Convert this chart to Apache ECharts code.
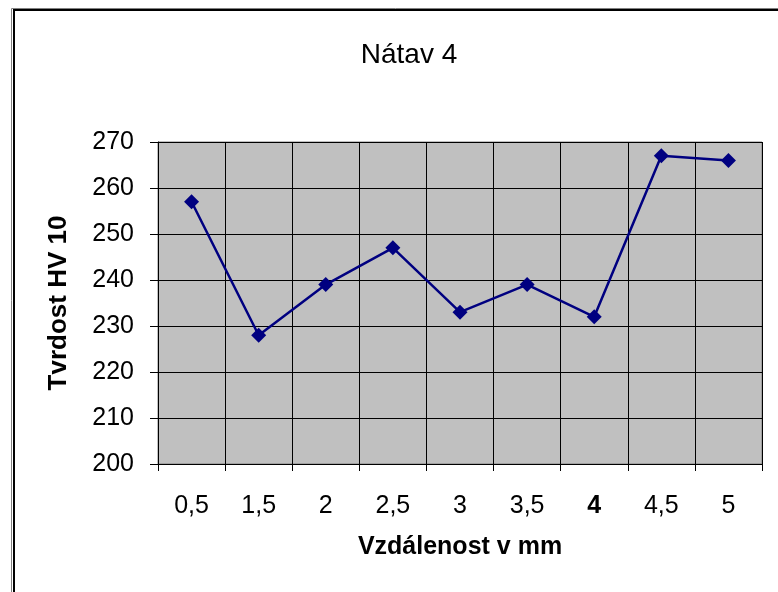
<!DOCTYPE html>
<html>
<head>
<meta charset="utf-8">
<script src="https://cdn.jsdelivr.net/npm/echarts@6/dist/echarts.min.js"></script>
<style>
  html, body { margin: 0; padding: 0; background: #fff; }
  #natavChart { width: 778px; height: 592px; }
</style>
</head>
<body>
<div id="natavChart"></div>
<script>
// Nátav 4 - tvrdost podle vzdálenosti
const categories = ['0,5', '1,5', '2', '2,5', '3', '3,5', '4', '4,5', '5']
const hardness = [257, 228, 239, 247, 233, 239, 232, 267, 266]
const yMin = 200
const yMax = 270
const yStep = 10

const fontFamily = '"Liberation Sans", Arial, sans-serif'

const chart = echarts.init(document.getElementById('natavChart'))
chart.setOption({
  animation: false,
  title: {
    text: 'Nátav 4',
    left: 404,
    top: 36,
    textAlign: 'center',
    textStyle: {
      fontFamily: fontFamily,
      fontSize: 28,
      fontWeight: 'normal',
      color: '#000'
    }
  },
  // ramecek kolem grafu
  graphic: [
    {
      type: 'rect',
      shape: { x: 11.5, y: 8.5, width: 900, height: 700 },
      style: { fill: 'none', stroke: '#808080', lineWidth: 1 }
    },
    {
      type: 'rect',
      shape: { x: 14, y: 10, width: 900, height: 700 },
      style: { fill: 'none', stroke: '#000', lineWidth: 2 }
    }
  ],
  grid: {
    left: 158,
    top: 142,
    width: 604,
    height: 322,
    show: true,
    backgroundColor: '#c0c0c0',
    borderColor: '#808080',
    borderWidth: 1
  },
  xAxis: {
    type: 'category',
    data: categories,
    name: 'Vzdálenost v mm',
    nameLocation: 'middle',
    nameGap: 71,
    nameTextStyle: {
      fontFamily: fontFamily,
      fontSize: 25,
      fontWeight: 'bold',
      color: '#000'
    },
    axisLine: { lineStyle: { color: '#000', width: 1 } },
    axisTick: { show: true, length: 7, lineStyle: { color: '#000' } },
    axisLabel: {
      margin: 30,
      fontFamily: fontFamily,
      fontSize: 25,
      color: '#000',
      formatter: v => v === '4' ? '{b|' + v + '}' : v,
      rich: {
        b: { fontFamily: fontFamily, fontSize: 25, fontWeight: 'bold', color: '#000' }
      }
    },
    splitLine: { show: true, lineStyle: { color: '#000', width: 1 } }
  },
  yAxis: {
    type: 'value',
    min: yMin,
    max: yMax,
    interval: yStep,
    name: 'Tvrdost HV 10',
    nameLocation: 'middle',
    nameGap: 86,
    nameTextStyle: {
      fontFamily: fontFamily,
      fontSize: 26,
      fontWeight: 'bold',
      color: '#000'
    },
    axisLine: { show: true, lineStyle: { color: '#000', width: 1 } },
    axisTick: { show: true, length: 8, lineStyle: { color: '#000' } },
    axisLabel: {
      margin: 24,
      fontFamily: fontFamily,
      fontSize: 25,
      color: '#000'
    },
    splitLine: { show: true, lineStyle: { color: '#000', width: 1 } }
  },
  series: [
    {
      name: 'Tvrdost',
      type: 'line',
      data: hardness,
      symbol: 'diamond',
      symbolSize: 15,
      lineStyle: { color: '#000080', width: 2.5 },
      itemStyle: { color: '#000080' }
    }
  ]
})
</script>
</body>
</html>
